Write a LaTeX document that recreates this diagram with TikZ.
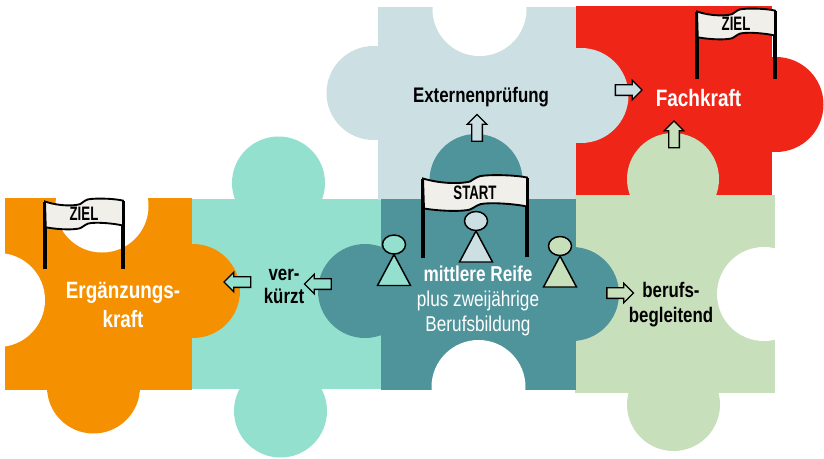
\documentclass[tikz,border=0pt]{standalone}
\usepackage{fontspec}
\setmainfont[FakeStretch=0.8]{Liberation Sans}
\newfontfamily\flagfont[FakeStretch=0.68]{Liberation Sans}
\usetikzlibrary{shapes.arrows}
\definecolor{orangeA}{HTML}{F59100}
\definecolor{mintA}{HTML}{93E0CF}
\definecolor{petrolA}{HTML}{4F939B}
\definecolor{paleA}{HTML}{CCE0E4}
\definecolor{redA}{HTML}{EE2517}
\definecolor{greenA}{HTML}{C8DFBC}
\definecolor{flagA}{HTML}{F1EFEA}
\tikzset{every picture/.style={line width=0.75pt}}
\tikzset{
	blockarrow/.style={shape=single arrow, draw=black, line width=1pt, minimum height=20pt, text height=7pt, text depth=0pt, text width=0pt, single arrow head extend=3.3pt, inner sep=0pt, outer sep=0pt},
	lighttext/.style={text=white, align=center, inner sep=0pt},
	darktext/.style={text=black, align=center, inner sep=0pt},
	pics/flag/.style={code={
		\draw [line width=3pt] (0,0) -- (0,79);
		\draw [line width=3pt] (104,-1) -- (104,78);
		\draw [fill=flagA, line width=1.4pt] (0,0) .. controls (20,6) and (40,5) .. (47,3) .. controls (52,0) and (55,-3) .. (62,-3) .. controls (75,-4) and (95,-3) .. (104,-1) -- (104,28) .. controls (95,26) and (75,24) .. (62,25) .. controls (55,25) and (52,29) .. (47,31) .. controls (40,33) and (20,33) .. (1,30) -- cycle ;
		\node [darktext, font=\flagfont\bfseries\fontsize{14.6}{16}\selectfont] (-label) at (52,14) {#1};
	}},
	pics/pawn/.style={code={
		\draw [fill=#1, line width=1.1pt] (0,10) -- (16.5,41) -- (-16.5,41) -- cycle ;
		\draw [fill=#1, line width=1.1pt] (0,0) ellipse (11.5 and 9.5);
	}}
}

\begin{document}
\begin{tikzpicture}[x=0.75pt,y=0.75pt,yscale=-1,xscale=1]
	\useasboundingbox (0,0) rectangle (824,458);

	%Shape: piece mint
	\fill [mintA] (192,199) rectangle (381,389);
	\fill [mintA] (278.5,183) circle (46.5);
	\fill [mintA] (280.5,411) circle (46.5);
	%Shape: piece orange
	\fill [orangeA] (5,198) rectangle (192,390);
	\fill [orangeA] (193,291) circle (47);
	\fill [orangeA] (93.5,387) circle (46.5);
	\fill [white] (102,206) circle (46.5);
	\fill [white] (-2,300) circle (47);
	%Shape: piece red
	\fill [redA] (576,6) rectangle (772,195);
	\fill [redA] (776,104.5) circle (47.5);
	%Shape: piece pale
	\fill [paleA] (378,7) rectangle (576,200);
	\fill [paleA] (373.5,93) circle (47);
	\fill [paleA] (581,95.5) circle (47.5);
	\fill [white] (479.5,9) circle (47);
	%Shape: piece green
	\fill [greenA] (575,195) rectangle (775,393);
	\fill [greenA] (673,179) circle (46);
	\fill [greenA] (673.5,404.5) circle (46.5);
	\fill [white] (764,294) circle (47);
	%Shape: piece petrol
	\fill [petrolA] (381,199) rectangle (576,390);
	\fill [petrolA] (365,291) circle (47);
	\fill [petrolA] (476,180.5) circle (46.5);
	\fill [petrolA] (572,294) circle (47);
	\fill [white] (478.5,387) circle (47);

	%Flags
	\pic [xscale=0.75, yscale=-0.86] (flagOrange) at (45,201.5) {flag=ZIEL};
	\pic [yscale=-1] (flagStart) at (423,178.5) {flag=START};
	\pic [xscale=0.75, yscale=-0.86] (flagRed) at (697,11.5) {flag=ZIEL};

	%Pawns
	\pic [yscale=-1] (pawnCentre) at (476,221) {pawn=paleA};
	\pic [yscale=-1] (pawnLeft) at (394,244.5) {pawn=mintA};
	\pic [yscale=-1] (pawnRight) at (560,246) {pawn=greenA};

	%Arrows
	\node [blockarrow, fill=mintA, rotate=180] (arrowOrange) at (240,282) {};
	\node [blockarrow, fill=mintA, rotate=180] (arrowMint) at (320.5,284) {};
	\node [blockarrow, fill=paleA, rotate=90] (arrowPale) at (477,130.5) {};
	\node [blockarrow, fill=greenA] (arrowGreen) at (617.5,293) {};
	\node [blockarrow, fill=paleA] (arrowFach) at (626,90) {};
	\node [blockarrow, fill=greenA, rotate=90] (arrowRed) at (674,137) {};

	% Text Node
	\node [lighttext, font=\bfseries\fontsize{17.7}{21.8}\selectfont] (textOrange) at (123,305) {Ergänzungs-\\kraft};
	% Text Node
	\node [darktext, font=\bfseries\fontsize{15.8}{17.2}\selectfont] (textMint) at (284,286.5) {ver-\\kürzt};
	% Text Node
	\node [darktext, font=\bfseries\fontsize{15.8}{18}\selectfont] (textPale) at (481,97) {Externenprüfung};
	% Text Node
	\node [lighttext, font=\bfseries\fontsize{17.8}{20}\selectfont] (textRed) at (698.5,98) {Fachkraft};
	% Text Node
	\node [lighttext, font=\fontsize{16.1}{18.8}\selectfont] (textPetrol) at (478,301) {\textbf{mittlere Reife}\\plus zweijährige\\Berufsbildung};
	% Text Node
	\node [darktext, font=\bfseries\fontsize{15.8}{18.8}\selectfont] (textGreen) at (671,304.5) {berufs-\\begleitend};
\end{tikzpicture}
\end{document}
